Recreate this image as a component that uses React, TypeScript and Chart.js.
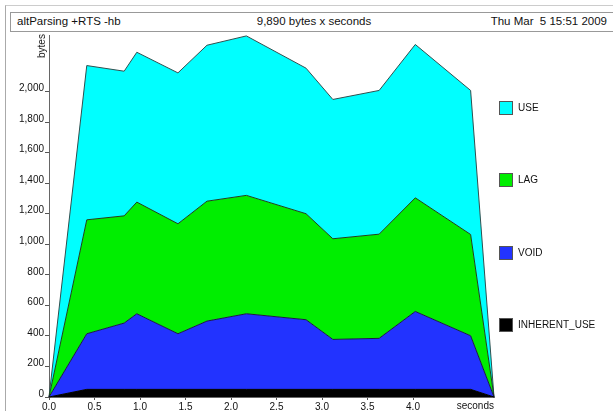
import { useEffect, useRef } from "react";
import { Chart, registerables } from "chart.js";

Chart.register(...registerables);

// Header strings
const JOB = "altParsing +RTS -hb";
const TOTAL = "9,890 bytes x seconds";
const STAMP = "Thu Mar  5 15:51 2009";

// Sample times (seconds)
const seconds = [0, 0.415, 0.826, 0.965, 1.417, 1.736, 2.169, 2.824, 3.119, 3.628, 4.025, 4.633, 4.89];

// Heap usage per biography band (bytes), stacked bottom to top
const inherentUse = [0, 50, 50, 50, 50, 50, 50, 50, 50, 50, 50, 50, 0];
const voidBytes = [0, 364, 434, 495, 364, 447, 495, 456, 327, 334, 510, 351, 0];
const lagBytes = [0, 746, 702, 731, 720, 785, 775, 694, 659, 682, 744, 663, 0];
const useBytes = [0, 1010, 947, 981, 988, 1021, 1044, 953, 912, 941, 1004, 943, 0];

// Axis ticks
const yTicks = [0, 200, 400, 600, 800, 1000, 1200, 1400, 1600, 1800, 2000];
const xTicks = [0, 0.5, 1, 1.5, 2, 2.5, 3, 3.5, 4];

const bands = [
  { label: "INHERENT_USE", values: inherentUse, color: "#000000", edge: "#000000" },
  { label: "VOID", values: voidBytes, color: "#2233ff", edge: "#1a1a40" },
  { label: "LAG", values: lagBytes, color: "#00ee00", edge: "#1f3f1f" },
  { label: "USE", values: useBytes, color: "#00ffff", edge: "#2f4f4f" },
];

const FONT = "'Liberation Sans', Arial, Helvetica, sans-serif";

export default function App() {
  const canvasRef = useRef<HTMLCanvasElement | null>(null);

  useEffect(() => {
    const canvas = canvasRef.current;
    if (!canvas) return;
    const chart = new Chart(canvas, {
      type: "line",
      data: {
        datasets: bands.map((b, i) => ({
          label: b.label,
          data: seconds.map((t, k) => ({ x: t, y: b.values[k] })),
          backgroundColor: b.color,
          borderColor: b.edge,
          borderWidth: 1,
          pointRadius: 0,
          tension: 0,
          fill: i === 0 ? "origin" : "-1",
          clip: 2,
        })),
      },
      options: {
        responsive: false,
        animation: false,
        devicePixelRatio: 1,
        layout: { padding: { left: 0, top: 35, right: 119, bottom: 0 } },
        plugins: { legend: { display: false }, tooltip: { enabled: false } },
        scales: {
          x: {
            type: "linear",
            min: 0,
            max: 4.89,
            afterFit: (s: any) => {
              s.height = 14;
            },
            afterBuildTicks: (s: any) => {
              s.ticks = xTicks.map((v) => ({ value: v }));
            },
            ticks: {
              autoSkip: false,
              maxRotation: 0,
              padding: 1,
              color: "#111",
              font: { family: FONT, size: 10 },
              callback: (v: any) => Number(v).toFixed(1),
            },
            grid: { drawOnChartArea: false, drawTicks: true, tickLength: 3, color: "#555" },
            border: { display: true, color: "#666", width: 1 },
          },
          y: {
            type: "linear",
            stacked: true,
            min: 0,
            max: 2370,
            afterFit: (s: any) => {
              s.width = 49;
            },
            afterBuildTicks: (s: any) => {
              s.ticks = yTicks.map((v) => ({ value: v }));
            },
            ticks: {
              autoSkip: false,
              padding: 1,
              labelOffset: -3,
              color: "#111",
              font: { family: FONT, size: 10 },
              callback: (v: any) => Number(v).toLocaleString("en-US"),
            },
            grid: { drawOnChartArea: false, drawTicks: true, tickLength: 4, color: "#555" },
            border: { display: true, color: "#666", width: 1 },
          },
        },
      },
    });
    return () => chart.destroy();
  }, []);

  const legendTops = [101, 173, 246, 318];
  const legendItems = [...bands].reverse();

  return (
    <div
      style={{
        position: "fixed",
        left: 0,
        top: 0,
        width: 613,
        height: 411,
        background: "#fff",
        overflow: "hidden",
        fontFamily: FONT,
        color: "#111",
      }}
    >
      {/* outer frame */}
      <div
        style={{
          position: "absolute",
          left: 5,
          top: 5,
          width: 700,
          height: 500,
          borderLeft: "1px solid #aaa",
          borderTop: "1px solid #ccc",
        }}
      />
      {/* header box */}
      <div
        style={{
          position: "absolute",
          left: 10,
          top: 12,
          width: 700,
          height: 18,
          border: "1px solid #999",
        }}
      />
      <div style={{ position: "absolute", left: 17, top: 14, fontSize: 11.5, lineHeight: "15px", whiteSpace: "pre" }}>
        {JOB}
      </div>
      <div
        style={{
          position: "absolute",
          left: 214,
          width: 200,
          top: 14,
          fontSize: 11.5,
          lineHeight: "15px",
          textAlign: "center",
          whiteSpace: "pre",
        }}
      >
        {TOTAL}
      </div>
      <div
        style={{
          position: "absolute",
          right: 6,
          top: 14,
          fontSize: 11.5,
          lineHeight: "15px",
          textAlign: "right",
          whiteSpace: "pre",
        }}
      >
        {STAMP}
      </div>

      <canvas
        ref={canvasRef}
        width={613}
        height={411}
        style={{ position: "absolute", left: 0, top: 0, width: 613, height: 411 }}
      />

      {/* axis titles */}
      <div
        style={{
          position: "absolute",
          left: 42,
          top: 46,
          fontSize: 10,
          lineHeight: "10px",
          whiteSpace: "pre",
          transform: "translate(-50%, -50%) rotate(-90deg)",
        }}
      >
        bytes
      </div>
      <div
        style={{
          position: "absolute",
          right: 613 - 494,
          top: 401,
          fontSize: 10,
          lineHeight: "10px",
          whiteSpace: "pre",
          textAlign: "right",
        }}
      >
        seconds
      </div>

      {/* key */}
      {legendItems.map((b, i) => (
        <div key={b.label}>
          <div
            style={{
              position: "absolute",
              left: 499,
              top: legendTops[i],
              width: 12,
              height: 12,
              background: b.color,
              border: "1px solid #555",
            }}
          />
          <div
            style={{
              position: "absolute",
              left: 518,
              top: legendTops[i] + 2,
              fontSize: 10,
              lineHeight: "10px",
              whiteSpace: "pre",
            }}
          >
            {b.label}
          </div>
        </div>
      ))}
    </div>
  );
}
